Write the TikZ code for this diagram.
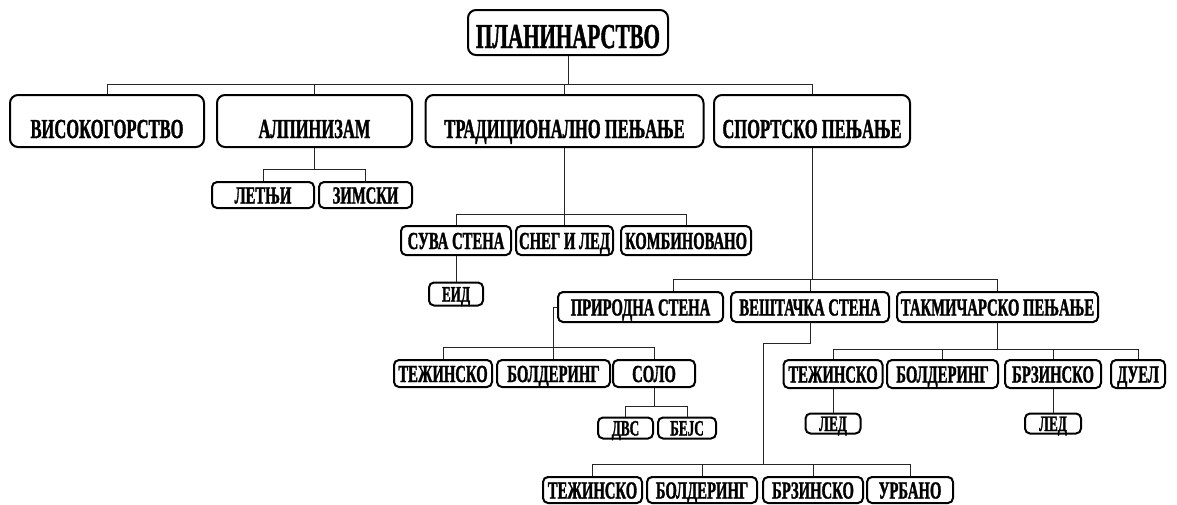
\documentclass[tikz,border=0pt]{standalone}
\usepackage{fontspec}
\newfontfamily\cf{Liberation Serif}[FakeStretch=0.6,FakeBold=1.3,UprightFont={* Bold}]
\usetikzlibrary{calc}
\tikzset{
  box/.style={draw=black,line width=2pt,rounded corners=5pt,inner sep=0pt,text=black,fill=white},
  lv0/.style={box,rounded corners=8pt,text height=31pt,text depth=0pt,font=\cf\fontsize{35}{38}\selectfont},
  lv1/.style={box,rounded corners=8pt,text height=34pt,text depth=0pt,font=\cf\fontsize{27.5}{30}\selectfont},
  lv2/.style={box,text height=17pt,text depth=0pt,font=\cf\fontsize{24.5}{26}\selectfont},
  lv3/.style={box,text height=15pt,text depth=0pt,font=\cf\fontsize{22}{24}\selectfont},
  conn/.style={line width=0.8pt,draw=black!85}
}
\begin{document}
\begin{tikzpicture}[x=1pt,y=-1pt]
\useasboundingbox (0,0) rectangle (1177,504);
% bus coordinates
\coordinate (b0) at (0,84);
\coordinate (b1) at (0,169);
\coordinate (b2) at (0,214);
\coordinate (b3) at (0,279);
\coordinate (b4) at (0,347);
\coordinate (b5) at (0,406);
\coordinate (b6) at (0,349);
\coordinate (b7) at (0,464);
\coordinate (vk) at (763,343);

% nodes
\node[lv0,minimum width=200pt,minimum height=45pt] (root) at (568,32.5) {ПЛАНИНАРСТВО};

\node[lv1,minimum width=194pt,minimum height=52pt] (vis) at (107,121) {ВИСОКОГОРСТВО};
\node[lv1,minimum width=195pt,minimum height=52pt] (alp) at (314.5,121) {АЛПИНИЗАМ};
\node[lv1,minimum width=278pt,minimum height=52pt] (trad) at (564.5,121) {ТРАДИЦИОНАЛНО ПЕЊАЊЕ};
\node[lv1,minimum width=196pt,minimum height=52pt] (sport) at (812,121) {СПОРТСКО ПЕЊАЊЕ};

\node[lv2,minimum width=102pt,minimum height=26pt] (let) at (263,195) {ЛЕТЊИ};
\node[lv2,minimum width=93pt,minimum height=26pt] (zim) at (365.5,195) {ЗИМСКИ};

\node[lv2,minimum width=110pt,minimum height=29pt] (suva) at (456,240.5) {СУВА СТЕНА};
\node[lv2,minimum width=97pt,minimum height=29pt] (sneg) at (564.5,240.5) {СНЕГ И ЛЕД};
\node[lv2,minimum width=130pt,minimum height=29pt] (komb) at (686,240.5) {КОМБИНОВАНО};
\node[lv3,minimum width=54pt,minimum height=23pt] (eid) at (456,294) {ЕИД};

\node[lv2,minimum width=165pt,minimum height=30pt] (prir) at (640.5,307) {ПРИРОДНА СТЕНА};
\node[lv2,minimum width=158pt,minimum height=30pt] (vest) at (810,307) {ВЕШТАЧКА СТЕНА};
\node[lv2,minimum width=201pt,minimum height=30pt] (takm) at (997.5,307) {ТАКМИЧАРСКО ПЕЊАЊЕ};

\node[lv2,minimum width=98pt,minimum height=27pt] (tez1) at (443,373.5) {ТЕЖИНСКО};
\node[lv2,minimum width=113pt,minimum height=27pt] (bol1) at (553.5,373.5) {БОЛДЕРИНГ};
\node[lv2,minimum width=82pt,minimum height=27pt] (solo) at (654,373.5) {СОЛО};
\node[lv3,minimum width=55pt,minimum height=21pt] (dvs) at (625.5,428) {ДВС};
\node[lv3,minimum width=58pt,minimum height=21pt] (bejs) at (687,428) {БЕЈС};

\node[lv2,minimum width=99pt,minimum height=28pt] (tez2) at (833,374) {ТЕЖИНСКО};
\node[lv2,minimum width=111pt,minimum height=28pt] (bol2) at (942.5,374) {БОЛДЕРИНГ};
\node[lv2,minimum width=96pt,minimum height=28pt] (brz2) at (1053,374) {БРЗИНСКО};
\node[lv2,minimum width=54pt,minimum height=28pt] (duel) at (1138,374) {ДУЕЛ};
\node[lv3,minimum width=55pt,minimum height=20pt] (led1) at (833,423.5) {ЛЕД};
\node[lv3,minimum width=56pt,minimum height=20pt] (led2) at (1053,423.5) {ЛЕД};

\node[lv2,minimum width=99pt,minimum height=26pt] (tez3) at (592.5,490) {ТЕЖИНСКО};
\node[lv2,minimum width=110pt,minimum height=26pt] (bol3) at (702,490) {БОЛДЕРИНГ};
\node[lv2,minimum width=100pt,minimum height=26pt] (brz3) at (813,490) {БРЗИНСКО};
\node[lv2,minimum width=86pt,minimum height=26pt] (urb) at (910,490) {УРБАНО};

% connectors
\draw[conn] (root.south) -- (root.south |- b0);
\draw[conn] (vis.north) |- (sport.north |- b0) -- (sport.north);
\draw[conn] (alp.north) -- (alp.north |- b0);
\draw[conn] (trad.north) -- (trad.north |- b0);

\draw[conn] (alp.south) -- (alp.south |- b1);
\draw[conn] (let.north) |- (zim.north |- b1) -- (zim.north);

\draw[conn] (trad.south) -- (trad.south |- b2);
\draw[conn] (suva.north) |- (komb.north |- b2) -- (komb.north);
\draw[conn] (sneg.north) -- (sneg.north |- b2);
\draw[conn] (suva.south) -- (eid.north);

\coordinate (pd) at ($(prir.north)+(33,0)$);
\draw[conn] (sport.south) -- (sport.south |- b3);
\draw[conn] (pd) |- (takm.north |- b3) -- (takm.north);
\draw[conn] (vest.north) -- (vest.north |- b3);

\draw[conn] (prir.west) -- (prir.west -| bol1.north) -- (bol1.north);
\draw[conn] (tez1.north) |- (solo.north |- b4) -- (solo.north);

\draw[conn] (solo.south) -- (solo.south |- b5);
\draw[conn] (dvs.north) |- (bejs.north |- b5) -- (bejs.north);

\draw[conn] (takm.south) -- (takm.south |- b6);
\draw[conn] (tez2.north) |- (duel.north |- b6) -- (duel.north);
\draw[conn] (bol2.north) -- (bol2.north |- b6);
\draw[conn] (brz2.north) -- (brz2.north |- b6);
\draw[conn] (tez2.south) -- (led1.north);
\draw[conn] (brz2.south) -- (led2.north);

\draw[conn] (vest.south) |- (vk) -- (vk |- b7);
\draw[conn] (tez3.north) |- (urb.north |- b7) -- (urb.north);
\draw[conn] (bol3.north) -- (bol3.north |- b7);
\draw[conn] (brz3.north) -- (brz3.north |- b7);
\end{tikzpicture}
\end{document}
